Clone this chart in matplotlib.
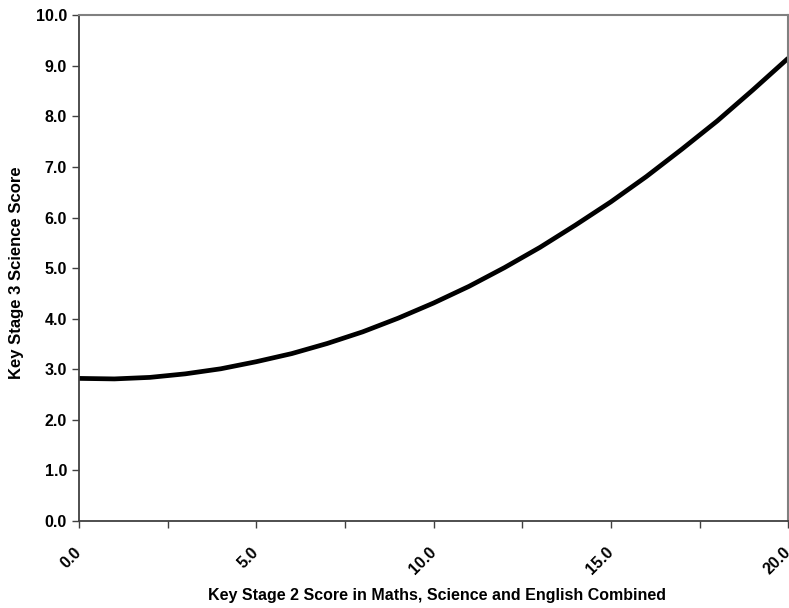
import matplotlib.pyplot as plt
import matplotlib.transforms as mtransforms

plt.rcParams['font.family'] = ['Liberation Sans', 'DejaVu Sans']

# valores
ks2_score = [0, 1, 2, 3, 4, 5, 6, 7, 8, 9, 10,
             11, 12, 13, 14, 15, 16, 17, 18, 19, 20]
ks3_science = [2.82, 2.81, 2.84, 2.91, 3.01, 3.15, 3.31, 3.51, 3.74, 4.01, 4.31,
               4.64, 5.01, 5.41, 5.85, 6.31, 6.81, 7.35, 7.91, 8.52, 9.15]

x_ticks = [0, 2.5, 5, 7.5, 10, 12.5, 15, 17.5, 20]
x_labels = ['0.0', '', '5.0', '', '10.0', '', '15.0', '', '20.0']
y_ticks = [0, 1, 2, 3, 4, 5, 6, 7, 8, 9, 10]
y_labels = ['0.0', '1.0', '2.0', '3.0', '4.0', '5.0', '6.0', '7.0', '8.0', '9.0', '10.0']

fig = plt.figure(figsize=(7.89, 6.08), dpi=100)
ax = fig.add_axes([0.100, 0.143, 0.899, 0.832])

ax.plot(ks2_score, ks3_science, color='black', linewidth=3.4, solid_capstyle='butt')

ax.set_xticks(x_ticks)
ax.set_xticklabels(x_labels, rotation=45, ha='right', va='top', rotation_mode='anchor',
                   fontweight='bold', fontsize=11.5)
ax.set_yticks(y_ticks)
ax.set_yticklabels(y_labels, fontweight='bold', fontsize=11.5)
ax.set_xlim(0, 20)
ax.set_ylim(0, 10)

ax.tick_params(axis='both', direction='out', length=5, width=1, color='#404040')
ax.tick_params(axis='x', pad=12)

# desloca os rotulos do eixo x um pouco para a esquerda
desloc = mtransforms.ScaledTranslation(-5 / 100, 0, fig.dpi_scale_trans)
for lab in ax.get_xticklabels():
    lab.set_transform(lab.get_transform() + desloc)

for s in ['left', 'bottom']:
    ax.spines[s].set_color('#404040')
    ax.spines[s].set_linewidth(1.3)
for s in ['top', 'right']:
    ax.spines[s].set_color('#808080')
    ax.spines[s].set_linewidth(1.5)

ax.set_xlabel('Key Stage 2 Score in Maths, Science and English Combined',
              fontweight='bold', fontsize=11.5)
ax.set_ylabel('Key Stage 3 Science Score', fontweight='bold', fontsize=12)
ax.xaxis.set_label_coords(0.505, -0.132)
ax.yaxis.set_label_coords(-0.077, 0.49)

fig.savefig('out.png', dpi=100)
